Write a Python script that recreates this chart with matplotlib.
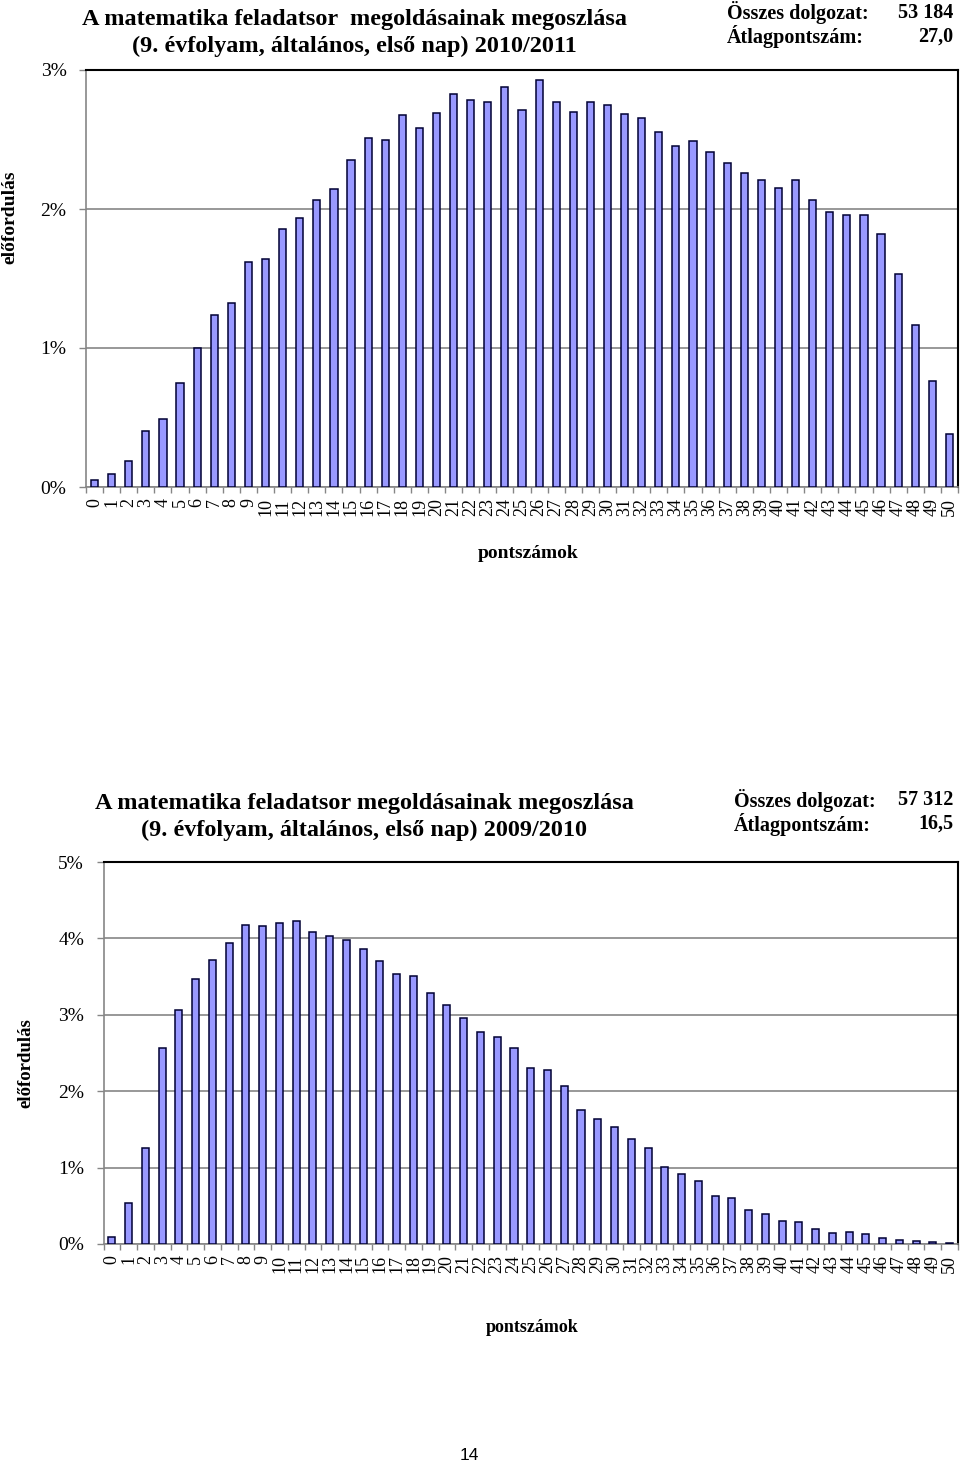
import numpy as np
import matplotlib.pyplot as plt

plt.rcParams['font.family'] = ['Liberation Serif', 'DejaVu Serif']

points = list(range(51))
labels = [str(p) for p in points]

# 2010/2011 distribution (percent)
share_2011 = [0.05, 0.094, 0.19, 0.405, 0.49, 0.75, 1.0, 1.235, 1.326, 1.62, 1.64,
              1.854, 1.937, 2.065, 2.146, 2.35, 2.508, 2.496, 2.678, 2.58, 2.693,
              2.825, 2.786, 2.772, 2.875, 2.71, 2.926, 2.767, 2.698, 2.767, 2.746,
              2.686, 2.655, 2.552, 2.456, 2.489, 2.41, 2.329, 2.259, 2.209, 2.151,
              2.206, 2.065, 1.978, 1.957, 1.96, 1.822, 1.535, 1.168, 0.763, 0.381]

# 2009/2010 distribution (percent)
share_2010 = [0.096, 0.54, 1.257, 2.565, 3.06, 3.468, 3.717, 3.936, 4.18, 4.162, 4.197,
              4.232, 4.08, 4.031, 3.975, 3.865, 3.7, 3.534, 3.512, 3.29, 3.128,
              2.962, 2.779, 2.71, 2.567, 2.3, 2.272, 2.068, 1.75, 1.632, 1.536,
              1.379, 1.26, 1.008, 0.92, 0.825, 0.632, 0.606, 0.445, 0.397, 0.305,
              0.292, 0.2, 0.14, 0.157, 0.135, 0.083, 0.057, 0.035, 0.022, 0.017]

title_2011 = 'A matematika feladatsor  megoldásainak megoszlása\n(9. évfolyam, általános, első nap) 2010/2011'
title_2010 = 'A matematika feladatsor megoldásainak megoszlása\n(9. évfolyam, általános, első nap) 2009/2010'
stats_2011 = ['53 184', '27,0']
stats_2010 = ['57 312', '16,5']

bar_color = '#9999ff'
edge_color = '#000033'
grid_color = '#868686'

fig = plt.figure(figsize=(9.6, 14.63), dpi=100)


def draw(ax, values, ymax):
    ax.bar(points, values, width=0.42, color=bar_color, edgecolor=edge_color,
           linewidth=1.1, zorder=3)
    ax.set_xlim(-0.5, 50.5)
    ax.set_ylim(0, ymax)
    ax.set_yticks(range(ymax + 1))
    ax.set_yticklabels([f'{v}%' for v in range(ymax + 1)], fontsize=14)
    ax.set_xticks(points)
    ax.set_xticklabels(labels, rotation=90, fontsize=13)
    ax.set_xticks(np.arange(-0.5, 51, 1), minor=True)
    ax.tick_params(axis='x', which='major', length=0, pad=8)
    ax.tick_params(axis='x', which='minor', length=4, color=grid_color, width=1)
    ax.tick_params(axis='y', length=5, color=grid_color, width=1, pad=9)
    ax.yaxis.grid(True, color=grid_color, linewidth=1.2, zorder=0)
    for s in ['left', 'bottom']:
        ax.spines[s].set_color(grid_color)
        ax.spines[s].set_linewidth(1.2)
    for s in ['top', 'right']:
        ax.spines[s].set_color('black')
        ax.spines[s].set_linewidth(1.5)


ax1 = fig.add_axes([86 / 960, 1 - 487 / 1463, 872 / 960, 417 / 1463])
draw(ax1, share_2011, 3)
ax2 = fig.add_axes([103.5 / 960, 1 - 1244 / 1463, 854.5 / 960, 382 / 1463])
draw(ax2, share_2010, 5)

# titles
fig.text(354 / 960, 1 - 33 / 1463, title_2011, ha='center', va='center',
         fontsize=17.5, fontweight='bold', linespacing=1.32)
fig.text(364 / 960, 1 - 817 / 1463, title_2010, ha='center', va='center',
         fontsize=17.5, fontweight='bold', linespacing=1.32)

# stats
for y0, x0, x1, vals in [(13, 727, 953, stats_2011), (800, 734, 953, stats_2010)]:
    fig.text(x0 / 960, 1 - y0 / 1463, 'Összes dolgozat:', ha='left', va='center',
             fontsize=14.5, fontweight='bold')
    fig.text(x0 / 960, 1 - (y0 + 24) / 1463, 'Átlagpontszám:', ha='left', va='center',
             fontsize=14.5, fontweight='bold')
    fig.text(x1 / 960, 1 - y0 / 1463, vals[0], ha='right', va='center',
             fontsize=14.5, fontweight='bold')
    fig.text(x1 / 960, 1 - (y0 + 24) / 1463, vals[1], ha='right', va='center',
             fontsize=14.5, fontweight='bold')

# axis labels
fig.text(10 / 960, 1 - 217 / 1463, 'előfordulás', rotation=90, ha='center',
         va='center', fontsize=14, fontweight='bold')
fig.text(26 / 960, 1 - 1063 / 1463, 'előfordulás', rotation=90, ha='center',
         va='center', fontsize=13.5, fontweight='bold')
fig.text(528 / 960, 1 - 553 / 1463, 'pontszámok', ha='center', va='center',
         fontsize=14, fontweight='bold')
fig.text(532 / 960, 1 - 1327 / 1463, 'pontszámok', ha='center', va='center',
         fontsize=13, fontweight='bold')

fig.text(469 / 960, 1 - 1455 / 1463, '14', ha='center', va='center',
         fontsize=12.5, family=['Liberation Sans', 'DejaVu Sans'])

fig.savefig('out.png', dpi=100)
